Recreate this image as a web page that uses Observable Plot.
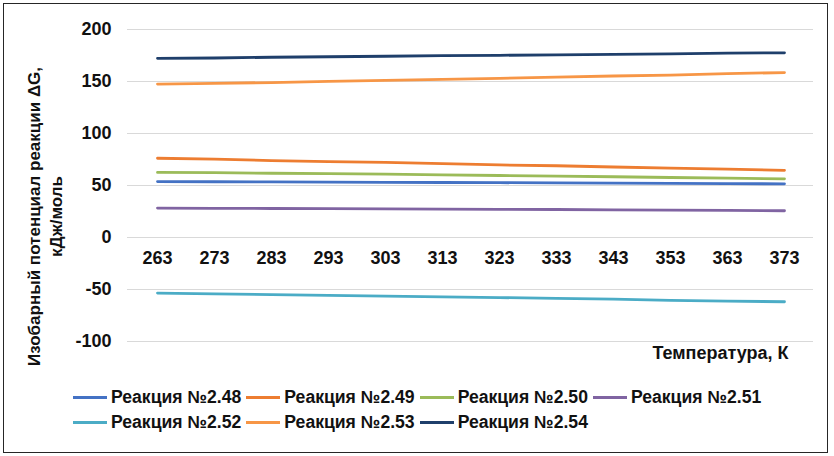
<!DOCTYPE html>
<html><head><meta charset="utf-8">
<script src="https://cdn.jsdelivr.net/npm/d3@7"></script>
<script src="https://cdn.jsdelivr.net/npm/@observablehq/plot@0.6"></script>
<style>
html,body{margin:0;padding:0;background:#fff;}
#page{position:relative;width:834px;height:456px;overflow:hidden;font-family:"Liberation Sans",Arial,sans-serif;}
#frame{position:absolute;left:3px;top:3px;width:823px;height:448px;border:1.5px solid #262626;}
#chart{position:absolute;left:0;top:0;}
#legend{position:absolute;left:73px;top:386px;width:740px;display:flex;flex-wrap:wrap;row-gap:3px;}
.item{display:inline-flex;align-items:center;height:22px;font-weight:bold;font-size:17.6px;color:#111;margin-right:5px;}
.sw{display:inline-block;width:34px;height:3px;margin-right:4px;}
</style></head>
<body><div id="page"><div id="frame"></div><div id="chart"></div><div id="legend"></div></div>
<script>
const temps = ["263","273","283","293","303","313","323","333","343","353","363","373"];
const seriesNames = ["Реакция №2.48","Реакция №2.49","Реакция №2.50","Реакция №2.51","Реакция №2.52","Реакция №2.53","Реакция №2.54"];
const colors = ["#4472C4","#ED7D31","#9BBB59","#8064A2","#4BACC6","#F79646","#1F3F6B"];
const r248 = [53.8,53.6,53.4,53.3,53.1,52.9,52.7,52.5,52.3,52.0,51.8,51.6];
const r249 = [76.2,75.3,74.0,73.0,72.2,71.0,69.8,69.0,67.8,66.8,65.8,64.6];
const r250 = [62.6,62.3,61.8,61.4,60.9,60.3,59.6,59.0,58.4,57.7,57.1,56.4];
const r251 = [28.3,28.1,27.9,27.7,27.6,27.3,27.1,26.9,26.6,26.3,26.0,25.7];
const r252 = [-53.4,-54.2,-55.0,-55.7,-56.4,-57.1,-57.8,-58.5,-59.3,-60.4,-61.1,-61.8];
const r253 = [147.5,148.2,149.0,150.2,151.0,152.0,153.1,154.2,155.3,156.2,157.5,158.6];
const r254 = [172.3,172.6,173.3,173.8,174.3,174.8,175.2,175.6,176.1,176.6,177.2,177.6];
const yTicks = [-100,-50,0,50,100,150,200];
const yTitle = "Изобарный потенциал реакции ΔG,\nкДж/моль";
const xTitle = "Температура, К";

const allSeries = [r248,r249,r250,r251,r252,r253,r254];
const data = [];
allSeries.forEach((vals,i)=>vals.forEach((v,j)=>data.push({series:seriesNames[i],temp:temps[j],value:v})));

const chart = Plot.plot({
  width: 834, height: 380,
  marginLeft: 127, marginRight: 21, marginTop: 29, marginBottom: 39,
  style: {fontFamily: '"Liberation Sans", Arial, sans-serif', background: "transparent"},
  x: {type: "point", domain: temps, padding: 0.5, axis: null},
  y: {domain: [-100,200], ticks: yTicks, axis: null},
  color: {domain: seriesNames, range: colors},
  marks: [
    Plot.ruleY(yTicks, {stroke: "#d9d9d9", strokeWidth: 1}),
    Plot.axisY({ticks: yTicks, tickSize: 0, tickPadding: 16, tickFormat: d=>String(d), label: null, fontSize: 18, fontWeight: "bold", fill: "#111"}),
    Plot.text(temps, {x: d=>d, y: ()=>0, dy: 21, text: d=>d, fontSize: 18, fontWeight: "bold", fill: "#111"}),
    Plot.line(data, {x: "temp", y: "value", stroke: "series", strokeWidth: 2.8, z: "series"}),
    Plot.text([yTitle], {frameAnchor: "left", text: d=>d, textAnchor: "middle", rotate: -90, dx: -84, dy: 31, lineHeight: 1.3, fontSize: 17, fontWeight: "bold", fill: "#111"}),
    Plot.text([xTitle], {frameAnchor: "bottom-right", text: d=>d, textAnchor: "end", dx: -25, dy: 17, fontSize: 18, fontWeight: "bold", fill: "#111"})
  ]
});
document.getElementById("chart").appendChild(chart);

const leg = document.getElementById("legend");
seriesNames.forEach((n,i)=>{
  const it = document.createElement("span"); it.className="item";
  const sw = document.createElement("span"); sw.className="sw"; sw.style.background=colors[i];
  it.appendChild(sw); it.appendChild(document.createTextNode(n));
  leg.appendChild(it);
});
</script></body></html>
